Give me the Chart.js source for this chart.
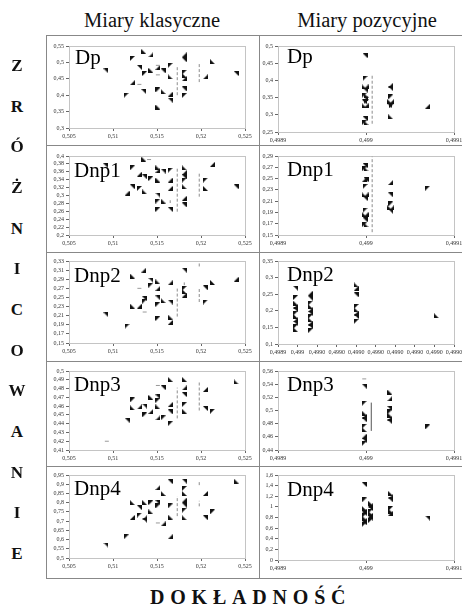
<!DOCTYPE html>
<html><head><meta charset="utf-8">
<script src="https://cdn.jsdelivr.net/npm/chart.js@4.4.1/dist/chart.umd.min.js"></script>
<style>
body{margin:0;width:462px;height:607px;background:#fff;position:relative;overflow:hidden;font-family:"Liberation Serif","Times New Roman","DejaVu Serif",serif;color:#111;}
.h{position:absolute;top:10px;font-size:20.5px;line-height:1;white-space:nowrap;transform:translateX(-50%);}
.v{position:absolute;left:17px;font-weight:bold;font-size:17px;line-height:1;transform:translate(-50%,-50%);}
.foot{position:absolute;left:150px;top:587px;font-weight:bold;font-size:20px;line-height:1;letter-spacing:5.8px;white-space:nowrap;}
.lab{position:absolute;font-size:21px;line-height:1;color:#000;white-space:nowrap;}
.ln{position:absolute;background:#888;}
canvas{position:absolute;}
</style></head><body>
<div class="h" style="left:152px">Miary klasyczne</div>
<div class="h" style="left:367px">Miary pozycyjne</div>
<div class="foot">DOKŁADNOŚĆ</div>
<script>
// ---------- data ----------
const sideLetters = ["Z","R","Ó","Ż","N","I","C","O","W","A","N","I","E"];
const panelLabels = ["Dp","Dnp1","Dnp2","Dnp3","Dnp4"];

// Miary klasyczne: x axis
const klXTicks = [0.505,0.51,0.515,0.52,0.525];
// Miary pozycyjne: x axis
const pozXTicks = [0.4989,0.499,0.4991];
const pozDnp2XTicks = [0.49898,0.498982,0.498984,0.498986,0.498988,0.49899,0.498992,0.498994,0.498996,0.498998];
const pozDnp2XLabels = ["0,4989","0,499","0,4990","0,4990","0,4990","0,4990","0,4990","0,4990","0,4990","0,4990"];

// y ranges [min,max,step]
const klDpYRange=[0.3,0.55,0.05], pozDpYRange=[0.25,0.5,0.05];
const klDnp1YRange=[0.2,0.4,0.02], pozDnp1YRange=[0.15,0.29,0.02];
const klDnp2YRange=[0.15,0.33,0.02], pozDnp2YRange=[0.1,0.35,0.05];
const klDnp3YRange=[0.41,0.5,0.01], pozDnp3YRange=[0.44,0.56,0.02];
const klDnp4YRange=[0.5,0.95,0.05], pozDnp4YRange=[0,1.6,0.2];

// --- Dp ---
const klDpX=[0.5092,0.5122,0.5135,0.5143,0.5130,0.5136,0.5143,0.5151,0.5157,0.5165,0.5165,0.5122,0.5135,0.5151,0.5157,0.5165,0.5165,0.5115,0.5151,0.5181,0.5181,0.5181,0.5181,0.5181,0.5181,0.5181,0.5213,0.5205,0.5240];
const klDpY=[0.474,0.512,0.533,0.523,0.485,0.466,0.476,0.485,0.474,0.491,0.456,0.438,0.411,0.416,0.411,0.403,0.385,0.400,0.364,0.523,0.508,0.470,0.460,0.450,0.419,0.399,0.502,0.456,0.466];
const klDpDashX=[0.5173,0.5198], klDpDashLo=[0.40,0.44], klDpDashHi=[0.49,0.50];
const klDpMarkX=[0.5130,0.5151,0.5151], klDpMarkY=[0.433,0.462,0.491];

const pozDpX=[0.498999,0.498999,0.498998,0.499000,0.498999,0.498998,0.499000,0.498999,0.498998,0.499000,0.498998,0.499000,0.498999,0.498998,0.499000,0.499028,0.499028,0.499028,0.499027,0.499029,0.499027,0.499029,0.499028,0.499070];
const pozDpY=[0.472,0.406,0.381,0.381,0.372,0.357,0.357,0.347,0.338,0.338,0.326,0.326,0.289,0.277,0.277,0.386,0.376,0.352,0.338,0.338,0.326,0.326,0.294,0.325];
const pozDpDashX=[0.499007], pozDpDashLo=[0.274], pozDpDashHi=[0.415];

// --- Dnp1 ---
const klDnp1X=[0.5091,0.5122,0.5135,0.5130,0.5136,0.5143,0.5151,0.5151,0.5157,0.5165,0.5151,0.5165,0.5122,0.5130,0.5136,0.5116,0.5151,0.5151,0.5157,0.5165,0.5165,0.5151,0.5181,0.5181,0.5181,0.5181,0.5181,0.5181,0.5181,0.5205,0.5205,0.5213,0.5240];
const klDnp1Y=[0.377,0.370,0.392,0.354,0.347,0.343,0.370,0.364,0.362,0.364,0.339,0.339,0.322,0.318,0.309,0.306,0.301,0.286,0.286,0.318,0.265,0.265,0.370,0.358,0.347,0.339,0.322,0.293,0.276,0.339,0.318,0.379,0.322];
const klDnp1DashX=[0.5173,0.5198,0.5165], klDnp1DashLo=[0.259,0.297,0.281], klDnp1DashHi=[0.370,0.356,0.288];
const klDnp1MarkX=[0.5141], klDnp1MarkY=[0.391];

const pozDnp1X=[0.498999,0.498998,0.499000,0.498998,0.499000,0.498999,0.498998,0.499000,0.498999,0.498999,0.498998,0.499000,0.498999,0.498998,0.499000,0.499028,0.499028,0.499028,0.499027,0.499029,0.499028,0.499070];
const pozDnp1Y=[0.273,0.267,0.267,0.248,0.248,0.236,0.221,0.221,0.215,0.194,0.186,0.186,0.177,0.168,0.168,0.243,0.221,0.205,0.198,0.198,0.192,0.233];
const pozDnp1DashX=[0.499007], pozDnp1DashLo=[0.155], pozDnp1DashHi=[0.289];

// --- Dnp2 ---
const klDnp2X=[0.5092,0.5116,0.5122,0.5135,0.5143,0.5143,0.5151,0.5151,0.5136,0.5136,0.5122,0.5130,0.5151,0.5151,0.5157,0.5165,0.5165,0.5151,0.5165,0.5165,0.5181,0.5181,0.5181,0.5181,0.5205,0.5205,0.5213,0.5240];
const klDnp2Y=[0.212,0.187,0.297,0.310,0.288,0.277,0.284,0.270,0.247,0.242,0.231,0.231,0.249,0.235,0.243,0.282,0.240,0.204,0.207,0.195,0.310,0.270,0.263,0.255,0.271,0.240,0.283,0.290];
const klDnp2DashX=[0.5173,0.5198,0.5198,0.5181], klDnp2DashLo=[0.208,0.240,0.318,0.277], klDnp2DashHi=[0.273,0.270,0.326,0.283];
const klDnp2MarkX=[0.5130,0.5136], klDnp2MarkY=[0.270,0.218];

const pozDnp2X=[0.4989818,0.4989818,0.4989818,0.4989818,0.4989818,0.4989818,0.4989818,0.4989818,0.4989818,0.4989818,0.4989818,
  0.4989833,0.4989833,0.4989833,0.4989833,0.4989833,0.4989833,0.4989833,0.4989833,0.4989833,0.4989833,0.4989833,
  0.4989880,0.4989880,0.4989880,0.4989880,0.4989880,0.4989880,0.4989880,0.4989880,0.4989962];
const pozDnp2Y=[0.268,0.240,0.223,0.213,0.203,0.193,0.183,0.173,0.163,0.153,0.143,
  0.253,0.238,0.223,0.213,0.203,0.193,0.183,0.173,0.163,0.153,0.140,
  0.278,0.268,0.248,0.213,0.203,0.193,0.183,0.168,0.185];

// --- Dnp3 ---
const klDnp3X=[0.5116,0.5122,0.5122,0.5130,0.5136,0.5136,0.5143,0.5143,0.5151,0.5151,0.5151,0.5151,0.5157,0.5157,0.5165,0.5165,0.5165,0.5165,0.5181,0.5181,0.5181,0.5181,0.5181,0.5205,0.5205,0.5213,0.5240];
const klDnp3Y=[0.444,0.467,0.458,0.459,0.460,0.450,0.470,0.454,0.4705,0.4667,0.459,0.4466,0.481,0.4466,0.4905,0.4617,0.4534,0.440,0.4905,0.4807,0.4731,0.4617,0.4542,0.479,0.4572,0.4542,0.4875];
const klDnp3DashX=[0.5173,0.5198], klDnp3DashLo=[0.446,0.455], klDnp3DashHi=[0.481,0.489];
const klDnp3MarkX=[0.5093,0.5151], klDnp3MarkY=[0.420,0.4835];

const pozDnp3X=[0.498998,0.498998,0.498998,0.498998,0.498998,0.498998,0.498998,0.498998,0.498998,0.498998,
  0.499027,0.499027,0.499027,0.499027,0.499027,0.499027,0.499027,0.499070];
const pozDnp3Y=[0.537,0.511,0.496,0.491,0.486,0.476,0.471,0.461,0.455,0.450,
  0.528,0.518,0.503,0.498,0.493,0.488,0.483,0.475];
const pozDnp3LineX=[0.499006], pozDnp3LineLo=[0.469], pozDnp3LineHi=[0.512];
const pozDnp3MarkX=[0.498998], pozDnp3MarkY=[0.548];

// --- Dnp4 ---
const klDnp4X=[0.5092,0.5115,0.5122,0.5122,0.5130,0.5130,0.5136,0.5136,0.5136,0.5143,0.5143,0.5151,0.5151,0.5151,0.5157,0.5157,0.5165,0.5165,0.5165,0.5165,0.5181,0.5181,0.5181,0.5181,0.5181,0.5181,0.5181,0.5205,0.5205,0.5213,0.5240];
const klDnp4Y=[0.570,0.615,0.800,0.720,0.773,0.733,0.800,0.718,0.705,0.800,0.750,0.882,0.800,0.782,0.850,0.685,0.914,0.782,0.722,0.615,0.917,0.877,0.850,0.814,0.787,0.759,0.718,0.850,0.718,0.750,0.917];
const klDnp4DashX=[0.5173,0.5198,0.5198], klDnp4DashLo=[0.727,0.895,0.780], klDnp4DashHi=[0.836,0.920,0.810];
const klDnp4MarkX=[0.5151], klDnp4MarkY=[0.690];

const pozDnp4X=[0.498998,0.498998,0.498998,0.498998,0.498998,0.498998,0.498998,0.498998,0.498998,0.498998,
  0.499005,0.499005,0.499005,0.499005,0.499005,0.499005,0.499005,0.499005,
  0.499028,0.499028,0.499028,0.499028,0.499028,0.499028,0.499070];
const pozDnp4Y=[1.42,1.13,0.97,0.92,0.88,0.84,0.79,0.74,0.70,0.67,
  1.07,1.02,0.97,0.92,0.88,0.84,0.79,0.74,
  1.25,1.19,1.13,0.97,0.92,0.88,0.79];

// ---------- drawing ----------
const FONT="'Liberation Serif','Times New Roman',serif";
const tris=[0,1,2,3].map(o=>{
  const c=document.createElement('canvas');c.width=5;c.height=5;
  const g=c.getContext('2d');g.fillStyle='#111';
  const P=[[[0,0],[5,0],[0,5]],[[0,0],[5,0],[5,5]],[[5,0],[5,5],[0,5]],[[0,0],[5,5],[0,5]]][o];
  g.beginPath();g.moveTo(P[0][0],P[0][1]);g.lineTo(P[1][0],P[1][1]);g.lineTo(P[2][0],P[2][1]);g.closePath();g.fill();
  return c;
});
function fmt(v){return String(Number(v.toFixed(7))).replace('.',',');}
function rangeTicks(r){const a=[];const n=Math.round((r[1]-r[0])/r[2]);for(let i=0;i<=n;i++)a.push(Number((r[0]+i*r[2]).toFixed(7)));return a;}

const boxPlugin={id:'box',beforeDatasetsDraw(ch){const a=ch.chartArea,c=ch.ctx;c.save();c.strokeStyle='#c4c4c4';c.lineWidth=1;
  c.strokeRect(Math.round(a.left)+0.5,Math.round(a.top)+0.5,Math.round(a.right-a.left),Math.round(a.bottom-a.top));c.restore();}};

function panel(p){
  const cv=document.createElement('canvas');
  cv.width=p.w;cv.height=p.h;
  cv.style.left=p.left+'px';cv.style.top=p.top+'px';cv.style.width=p.w+'px';cv.style.height=p.h+'px';
  document.body.appendChild(cv);
  const ds=[];
  (p.dash||[[],[],[]])[0].forEach((x,i)=>{
    ds.push({data:[{x,y:p.dash[1][i]},{x,y:p.dash[2][i]}],showLine:true,borderColor:p.solid?'#555':'#8c8c8c',borderWidth:1,borderDash:p.solid?[]:[3,2],pointRadius:0});
  });
  if(p.mark) ds.push({data:p.mark[0].map((x,i)=>({x,y:p.mark[1][i]})),pointStyle:'line',pointRadius:2,borderColor:'#999',borderWidth:1,showLine:false});
  ds.push({data:p.X.map((x,i)=>({x,y:p.Y[i]})),pointStyle:p.X.map((_,i)=>tris[(i*3+1)%4]),pointRadius:2.5,showLine:false});
  const yT=rangeTicks(p.yr);
  new Chart(cv,{type:'scatter',data:{datasets:ds},plugins:[boxPlugin],
    options:{responsive:false,animation:false,events:[],
      layout:{padding:{left:0,top:p.pT-p.top,right:p.left+p.w-p.pR,bottom:0}},
      plugins:{legend:{display:false},tooltip:{enabled:false}},
      scales:{
        x:{type:'linear',min:p.xT[0],max:p.xT[p.xT.length-1],
          afterBuildTicks:s=>{s.ticks=p.xT.map(v=>({value:v}));},
          afterFit:s=>{s.height=p.bottom-p.pB;},
          ticks:{autoSkip:false,maxRotation:0,padding:2,color:'#333',font:{family:FONT,size:6},
            callback:(v,i)=>p.xL?p.xL[i]:fmt(v)},
          grid:{display:true,drawOnChartArea:false,drawTicks:true,tickLength:3,color:'#666'},
          border:{display:true,color:'#666'}},
        y:{type:'linear',min:p.yr[0],max:p.yr[1],
          afterBuildTicks:s=>{s.ticks=yT.map(v=>({value:v}));},
          afterFit:s=>{s.width=p.pL-p.left;},
          ticks:{autoSkip:false,padding:2,color:'#333',font:{family:FONT,size:6},callback:v=>fmt(v)},
          grid:{display:true,drawOnChartArea:false,drawTicks:true,tickLength:3,color:'#666'},
          border:{display:true,color:'#666'}}
      }}});
}

const rowTop=[35,145,252,361,466], rowBot=[145,252,361,466,578];
const leftPlot=[[46,128],[156,235],[261,343],[371,450],[475,558]];
const rightPlot=[[46,132],[156,235],[261,344],[371,450],[475,560]];
const kl=[
 {X:klDpX,Y:klDpY,yr:klDpYRange,dash:[klDpDashX,klDpDashLo,klDpDashHi],mark:[klDpMarkX,klDpMarkY]},
 {X:klDnp1X,Y:klDnp1Y,yr:klDnp1YRange,dash:[klDnp1DashX,klDnp1DashLo,klDnp1DashHi],mark:[klDnp1MarkX,klDnp1MarkY]},
 {X:klDnp2X,Y:klDnp2Y,yr:klDnp2YRange,dash:[klDnp2DashX,klDnp2DashLo,klDnp2DashHi],mark:[klDnp2MarkX,klDnp2MarkY]},
 {X:klDnp3X,Y:klDnp3Y,yr:klDnp3YRange,dash:[klDnp3DashX,klDnp3DashLo,klDnp3DashHi],mark:[klDnp3MarkX,klDnp3MarkY]},
 {X:klDnp4X,Y:klDnp4Y,yr:klDnp4YRange,dash:[klDnp4DashX,klDnp4DashLo,klDnp4DashHi],mark:[klDnp4MarkX,klDnp4MarkY]}];
const poz=[
 {X:pozDpX,Y:pozDpY,yr:pozDpYRange,dash:[pozDpDashX,pozDpDashLo,pozDpDashHi]},
 {X:pozDnp1X,Y:pozDnp1Y,yr:pozDnp1YRange,dash:[pozDnp1DashX,pozDnp1DashLo,pozDnp1DashHi]},
 {X:pozDnp2X,Y:pozDnp2Y,yr:pozDnp2YRange,xT:pozDnp2XTicks,xL:pozDnp2XLabels},
 {X:pozDnp3X,Y:pozDnp3Y,yr:pozDnp3YRange,dash:[pozDnp3LineX,pozDnp3LineLo,pozDnp3LineHi],solid:true,mark:[pozDnp3MarkX,pozDnp3MarkY]},
 {X:pozDnp4X,Y:pozDnp4Y,yr:pozDnp4YRange}];

for(let r=0;r<5;r++){
  panel(Object.assign({left:46,top:rowTop[r],bottom:rowBot[r],w:259-46,h:rowBot[r]-rowTop[r],pL:69,pR:245,pT:leftPlot[r][0],pB:leftPlot[r][1],xT:klXTicks},kl[r]));
  panel(Object.assign({left:259,top:rowTop[r],bottom:rowBot[r],w:475-259,h:rowBot[r]-rowTop[r],pL:278,pR:454,pT:rightPlot[r][0],pB:rightPlot[r][1],xT:pozXTicks},poz[r]));
}

// frame lines
function line(x,y,w,h){const d=document.createElement('div');d.className='ln';d.style.cssText=`left:${x}px;top:${y}px;width:${w}px;height:${h}px`;document.body.appendChild(d);}
line(46,35,420,1);line(46,578,420,1);line(46,35,1,544);line(259,35,1,544);
[145,252,361,466].forEach(y=>line(46,y,420,1));

// labels
const labTops=[[75,47,287,46],[74,160,287,159],[74,265,287,264],[74,374,287,374],[74,478,287,479]];
panelLabels.forEach((t,r)=>{
  [[labTops[r][0],labTops[r][1]],[labTops[r][2],labTops[r][3]]].forEach(([x,y])=>{
    const d=document.createElement('div');d.className='lab';d.textContent=t;d.style.left=x+'px';d.style.top=y+'px';document.body.appendChild(d);});
});
sideLetters.forEach((t,i)=>{const d=document.createElement('div');d.className='v';d.textContent=t;d.style.top=(65+i*40.67)+'px';document.body.appendChild(d);});
</script>
</body></html>
